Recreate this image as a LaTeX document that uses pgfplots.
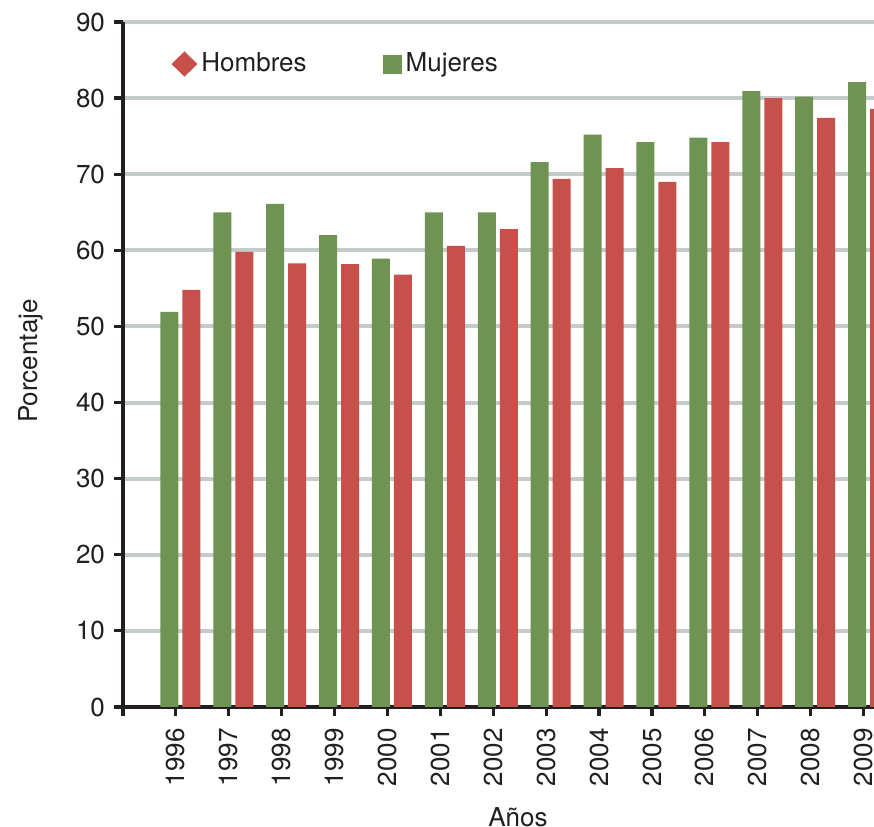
\documentclass[border=0pt]{standalone}
\usepackage{pgfplots}
\pgfplotsset{compat=1.18}
\usepackage{fontspec}
\setmainfont{TeX Gyre Heros}
\definecolor{hred}{HTML}{C8504A}
\definecolor{mgreen}{HTML}{6E9352}
\definecolor{gridgray}{HTML}{C5CACB}
\definecolor{axblack}{HTML}{231F20}
\begin{document}
\fontsize{13}{15.6}\selectfont
\begin{tikzpicture}
\begin{axis}[
  scale only axis,
  width=375.5pt, height=342.5pt,
  xmin=1995, xmax=2009.197,
  ymin=0, ymax=90,
  axis x line*=bottom, axis y line*=left,
  axis line style={axblack, line width=1.6pt},
  tick align=outside,
  major tick length=4.5pt,
  tick style={axblack, line width=1.6pt},
  xtick={1995,1996,1997,1998,1999,2000,2001,2002,2003,2004,2005,2006,2007,2008,2009},
  xticklabels={{},1996,1997,1998,1999,2000,2001,2002,2003,2004,2005,2006,2007,2008,2009},
  ytick={0,10,20,30,40,50,60,70,80,90},
  ymajorgrids,
  grid style={gridgray, line width=2pt},
  /pgf/number format/assume math mode=true,
  ticklabel style={font=\fontsize{13}{15.6}\selectfont, text=axblack},
  xticklabel style={rotate=90, anchor=east, inner sep=6pt},
  xlabel={Años},
  ylabel={Porcentaje},
  label style={font=\fontsize{13}{15.6}\selectfont, text=axblack},
  xlabel style={at={(axis description cs:0.526,-0.1606)}, anchor=center},
  ylabel style={at={(axis description cs:-0.1225,0.505)}, anchor=center, rotate=0},
  legend style={at={(axis description cs:0.056,0.9386)}, anchor=west, draw=none, fill=none,
    font=\fontsize{13}{15.6}\selectfont, text=axblack,
    /tikz/every even column/.append style={column sep=36pt}},
  legend columns=2,
]
\addplot[ybar, bar width=9pt, bar shift=7.75pt, fill=hred, draw=none,
  legend image code/.code={\fill[hred] (0pt,0pt) -- (6.5pt,6.3pt) -- (13pt,0pt) -- (6.5pt,-6.3pt) -- cycle;}]
  coordinates {(1996,54.8) (1997,59.8) (1998,58.3) (1999,58.2) (2000,56.8) (2001,60.6) (2002,62.8)
  (2003,69.4) (2004,70.8) (2005,69.0) (2006,74.2) (2007,80.0) (2008,77.4) (2009,78.6)};
\addlegendentry{Hombres}
\addplot[ybar, bar width=9pt, bar shift=-3.25pt, fill=mgreen, draw=none,
  legend image code/.code={\fill[mgreen] (0pt,-4.75pt) rectangle (9.5pt,4.75pt);}]
  coordinates {(1996,51.9) (1997,65.0) (1998,66.1) (1999,62.0) (2000,58.9) (2001,65.0) (2002,65.0)
  (2003,71.6) (2004,75.2) (2005,74.2) (2006,74.8) (2007,80.9) (2008,80.2) (2009,82.1)};
\addlegendentry{Mujeres}
\end{axis}
\pgfresetboundingbox
\path[use as bounding box] ([shift={(-61.5pt,-60pt)}]current axis.south west) rectangle ([shift={(0pt,11pt)}]current axis.north east);
\end{tikzpicture}
\end{document}
